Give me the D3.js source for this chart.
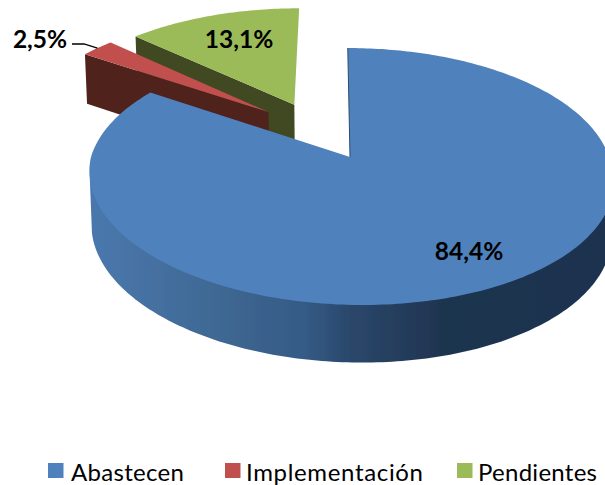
<!DOCTYPE html>
<html>
<head>
<meta charset="utf-8">
<script src="https://cdn.jsdelivr.net/npm/d3@7"></script>
<style>
  body { margin: 0; background: #fff; }
  svg { display: block; }
  text { font-family: Lato, "Open Sans", sans-serif; fill: #000; }
</style>
</head>
<body>
<svg></svg>
<script>
var width = 605;
var height = 485;

var categories = ["Abastecen", "Implementación", "Pendientes"];
var values = [84.4, 2.5, 13.1];
var valueLabels = ["84,4%", "2,5%", "13,1%"];

var topColors = ["#4f81bd", "#c0504d", "#9bbb59"];
var wallColors = ["#2c4a6e", "#4f201e", "#3f4a21"];

// how far each slice is pulled out of the pie, in pie radius units
var explodeX = [0, -0.329, -0.225];
var explodeY = [0, 0.379, 0.445];

// projection of the tilted pie
var cx = 350, cy = 157;
var rx = 259, ry = 125.5;
var persp = 0.152, shearBack = -0.01, shearFront = -0.04;
var depth = 53, shrink = 0.992;

function project(u, v) {
    var w = 1 + persp * v;
    var shear = v > 0 ? shearBack : shearFront;
    return [cx + rx * (u + shear * v) / w, cy - ry * v / w, w];
}
function projectLow(u, v) {
    var p = project(u, v);
    return [cx + (p[0] - cx) * shrink, p[1] + depth / Math.sqrt(p[2])];
}
function rimPoint(a, i, fn) {
    return fn(explodeX[i] + Math.sin(a), explodeY[i] + Math.cos(a));
}
function apex(i, fn) {
    return fn(explodeX[i], explodeY[i]);
}
function rim(a0, a1, i, fn) {
    var n = Math.max(2, Math.ceil((a1 - a0) * 60));
    return d3.range(n + 1).map(k => rimPoint(a0 + (a1 - a0) * k / n, i, fn));
}

var slices = d3.pie().sort(null).value(d => d)(values);
var line = d3.line().x(d => d[0]).y(d => d[1]);

var svg = d3.select("svg")
    .attr("width", width)
    .attr("height", height);

var defs = svg.append("defs");

var grad = defs.append("linearGradient")
    .attr("id", "blueSide")
    .attr("gradientUnits", "userSpaceOnUse")
    .attr("x1", 88).attr("x2", 608).attr("y1", 0).attr("y2", 0);
[[0, "#4a78ae"], [0.25, "#3f6893"], [0.42, "#345a85"], [0.5, "#2b486c"], [0.68, "#1f3450"], [1, "#1f3350"]]
    .forEach(s => grad.append("stop").attr("offset", s[0]).attr("stop-color", s[1]));

defs.append("filter")
    .attr("id", "soft")
    .attr("x", "-5%").attr("y", "-5%").attr("width", "110%").attr("height", "110%")
    .append("feGaussianBlur")
    .attr("stdDeviation", 0.6);

var pie = svg.append("g").attr("filter", "url(#soft)");

// back to front: green, red, then the big blue slice
[2, 1].forEach(i => {
    var s = slices[i];
    var wall = [apex(i, project)]
        .concat([rimPoint(s.startAngle, i, project), rimPoint(s.startAngle, i, projectLow), apex(i, projectLow)]);
    pie.append("path")
        .attr("d", line(wall) + "Z")
        .attr("fill", wallColors[i]);
    pie.append("path")
        .attr("d", line([apex(i, project)].concat(rim(s.startAngle, s.endAngle, i, project))) + "Z")
        .attr("fill", topColors[i]);
});

// side of the blue slice: hull of the front part of both rims, the top face hides the rest
var blue = slices[0];
var frontFrom = Math.PI * 100 / 180, frontTo = Math.PI * 260 / 180;
var sideHull = d3.polygonHull(rim(frontFrom, frontTo, 0, project).concat(rim(frontFrom, frontTo, 0, projectLow)));
pie.append("path")
    .attr("d", line(sideHull) + "Z")
    .attr("fill", "url(#blueSide)");
pie.append("path")
    .attr("d", line([apex(0, project)].concat(rim(blue.startAngle, blue.endAngle, 0, project))) + "Z")
    .attr("fill", topColors[0]);
pie.append("path")
    .attr("d", line([apex(0, project), rimPoint(blue.startAngle, 0, project)]))
    .attr("fill", "none")
    .attr("stroke", wallColors[0])
    .attr("stroke-width", 1);

// leader line of the small slice
var redMid = rimPoint((slices[1].startAngle + slices[1].endAngle) / 2, 1, project);
svg.append("path")
    .attr("d", line([[72, 44], [84, 44], redMid]))
    .attr("fill", "none")
    .attr("stroke", "#000")
    .attr("stroke-width", 1.3);

// value labels
var labelPos = [[469, 251], [40, 39], [239, 39]];
svg.selectAll(".value")
    .data(valueLabels)
    .enter()
    .append("text")
        .classed("value", true)
        .attr("x", (d, i) => labelPos[i][0])
        .attr("y", (d, i) => labelPos[i][1])
        .attr("dy", "0.35em")
        .style("font-size", "24.5px")
        .style("font-weight", "700")
        .style("text-anchor", "middle")
        .text(d => d);

// legend
var legendSwatch = [48, 225, 457];
var legendText = [71, 246, 478];
var legendWidth = [113, 177, 119];
var legend = svg.selectAll(".legend")
    .data(categories)
    .enter()
    .append("g")
        .classed("legend", true);
legend.append("rect")
    .attr("x", (d, i) => legendSwatch[i])
    .attr("y", 463)
    .attr("width", 15.5)
    .attr("height", 15)
    .attr("fill", (d, i) => topColors[i]);
legend.append("text")
    .attr("x", (d, i) => legendText[i])
    .attr("y", 481)
    .attr("textLength", (d, i) => legendWidth[i])
    .attr("lengthAdjust", "spacing")
    .style("font-size", "24px")
    .text(d => d);
</script>
</body>
</html>
